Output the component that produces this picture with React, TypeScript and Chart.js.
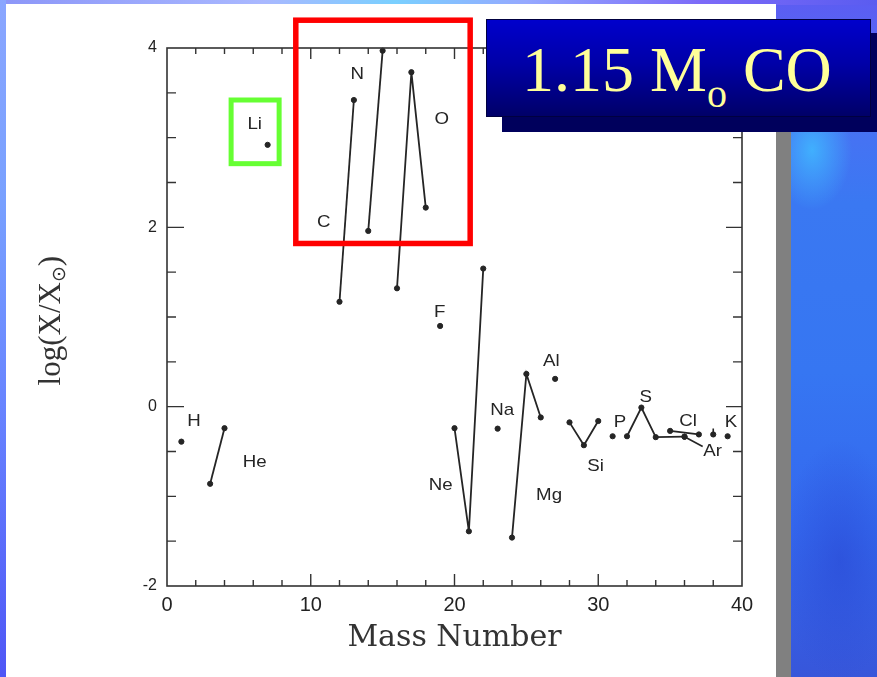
import React, { useEffect, useRef } from 'react';
import { Chart, registerables } from 'chart.js';

Chart.register(...registerables);

// Isotopic overabundances for the 1.15 solar-mass CO nova model:
// each pair is [mass number, log(X / X_sun)]
const H = [[1, -0.39]];
const He = [[3, -0.86], [4, -0.24]];
const Li = [[7, 2.92]];
const C = [[12, 1.17], [13, 3.42]];
const N = [[14, 1.96], [15, 3.97]];
const O = [[16, 1.32], [17, 3.73], [18, 2.22]];
const F = [[19, 0.9]];
const Ne = [[20, -0.24], [21, -1.39], [22, 1.54]];
const Na = [[23, -0.245]];
const Mg = [[24, -1.46], [25, 0.365], [26, -0.12]];
const Al = [[27, 0.31]];
const Si = [[28, -0.175], [29, -0.43], [30, -0.16]];
const P = [[31, -0.33]];
const S = [[32, -0.33], [33, -0.01], [34, -0.34], [36, -0.335]];
const Cl = [[35, -0.27], [37, -0.31]];
const Ar = [[36, -0.335], [38, -0.31]];
const K = [[39, -0.33]];

const elementNames = ['H', 'He', 'Li', 'C', 'N', 'O', 'F', 'Ne', 'Na', 'Mg', 'Al', 'Si', 'P', 'S', 'Cl', 'Ar', 'K'];
const elementSeries = [H, He, Li, C, N, O, F, Ne, Na, Mg, Al, Si, P, S, Cl, Ar, K];
// isotopes of one element are joined by a line, except argon
const joinIsotopes = [true, true, true, true, true, true, true, true, true, true, true, true, true, true, true, false, true];

// where each element symbol sits, in axis units
const labelMass = [1.87, 6.1, 6.1, 10.9, 13.23, 19.11, 18.97, 19.04, 23.32, 26.58, 26.73, 29.82, 31.52, 33.3, 36.25, 37.96, 39.24];
const labelLog = [-0.16, -0.62, 3.15, 2.06, 3.71, 3.2, 1.05, -0.88, -0.04, -0.99, 0.51, -0.66, -0.18, 0.1, -0.16, -0.5, -0.17];

// axis ranges
const massRange = [0, 40];
const logRange = [-2, 4];

// highlight frames: [mass from, mass to, log from, log to]
const cnoFrame = [8.96, 21.09, 1.82, 4.31];
const lithiumFrame = [4.46, 7.8, 2.71, 3.42];

const INK = '#252525';
const SANS = '"Liberation Sans", Arial, Helvetica, sans-serif';
const SERIF = '"Liberation Serif", "Times New Roman", "DejaVu Serif", serif';

const framePlugin = {
  id: 'frameAndTicks',
  afterDraw(chart: any) {
    const { ctx, chartArea: a, scales } = chart;
    const x = scales.x;
    const y = scales.y;
    ctx.save();
    ctx.strokeStyle = '#333';
    ctx.lineWidth = 1.6;
    ctx.strokeRect(a.left, a.top, a.right - a.left, a.bottom - a.top);
    ctx.lineWidth = 1.4;
    ctx.beginPath();
    // inward tick marks on bottom and top, every 2 mass units
    for (let v = massRange[0] + 2; v < massRange[1]; v += 2) {
      const px = x.getPixelForValue(v);
      const major = v % 10 === 0;
      ctx.moveTo(px, a.bottom);
      ctx.lineTo(px, a.bottom - (major ? 12 : 6));
      ctx.moveTo(px, a.top);
      ctx.lineTo(px, a.top + (major ? 11 : 6));
    }
    // inward tick marks on left and right, every 0.5 dex
    for (let v = logRange[0] + 0.5; v < logRange[1]; v += 0.5) {
      const py = y.getPixelForValue(v);
      const major = v % 2 === 0;
      ctx.moveTo(a.left, py);
      ctx.lineTo(a.left + (major ? 17 : 9), py);
      ctx.moveTo(a.right, py);
      ctx.lineTo(a.right - (major ? 16 : 9), py);
    }
    ctx.stroke();
    ctx.restore();
  },
};

const labelPlugin = {
  id: 'elementLabels',
  afterDraw(chart: any) {
    const { ctx, scales } = chart;
    const x = scales.x;
    const y = scales.y;
    ctx.save();
    ctx.fillStyle = INK;
    ctx.strokeStyle = INK;
    ctx.font = `17px ${SANS}`;
    ctx.textAlign = 'center';
    ctx.textBaseline = 'middle';
    elementNames.forEach((name, i) => {
      const px = x.getPixelForValue(labelMass[i]);
      const py = y.getPixelForValue(labelLog[i]);
      ctx.save();
      ctx.translate(px, py);
      ctx.scale(1.1, 1);
      ctx.fillText(name, 0, 0);
      ctx.restore();
    });
    // argon: pointer from the 36Ar point to its symbol, stem over 38Ar
    const ai = elementNames.indexOf('Ar');
    const a36x = x.getPixelForValue(Ar[0][0]);
    const a36y = y.getPixelForValue(Ar[0][1]);
    const lx = x.getPixelForValue(labelMass[ai]);
    const ly = y.getPixelForValue(labelLog[ai]);
    ctx.lineWidth = 1.6;
    ctx.beginPath();
    ctx.moveTo(a36x, a36y);
    ctx.lineTo(lx - 10, ly - 5);
    const a38x = x.getPixelForValue(Ar[1][0]);
    const a38y = y.getPixelForValue(Ar[1][1]);
    ctx.moveTo(a38x, a38y);
    ctx.lineTo(a38x, a38y - 6);
    ctx.stroke();

    // y-axis title: log(X/X⊙), rotated
    const cx = 60;
    const cy = 320.6;
    ctx.translate(cx, cy);
    ctx.rotate(-Math.PI / 2);
    ctx.textAlign = 'left';
    ctx.textBaseline = 'alphabetic';
    ctx.fillStyle = '#333';
    const big = `31px ${SERIF}`;
    const small = `19px "DejaVu Sans", ${SERIF}`;
    ctx.font = big;
    const w1 = ctx.measureText('log(X/X').width;
    const w3 = ctx.measureText(')').width;
    ctx.font = small;
    const w2 = ctx.measureText('\u2299').width;
    let sx = -(w1 + w2 + w3) / 2;
    ctx.font = big;
    ctx.fillText('log(X/X', sx, 0);
    sx += w1;
    ctx.font = small;
    ctx.fillText('\u2299', sx, 5);
    sx += w2;
    ctx.font = big;
    ctx.fillText(')', sx, 0);
    ctx.restore();
  },
};

const highlightPlugin = {
  id: 'highlightFrames',
  afterDraw(chart: any) {
    const { ctx, scales } = chart;
    const x = scales.x;
    const y = scales.y;
    const frame = (r: number[], color: string, width: number) => {
      const x0 = x.getPixelForValue(r[0]);
      const x1 = x.getPixelForValue(r[1]);
      const y0 = y.getPixelForValue(r[3]);
      const y1 = y.getPixelForValue(r[2]);
      ctx.strokeStyle = color;
      ctx.lineWidth = width;
      ctx.strokeRect(x0, y0, x1 - x0, y1 - y0);
    };
    ctx.save();
    frame(cnoFrame, '#ff0000', 5.5);
    frame(lithiumFrame, '#66ff33', 5);
    ctx.restore();
  },
};

export default function App() {
  const canvasRef = useRef<HTMLCanvasElement>(null);

  useEffect(() => {
    const canvas = canvasRef.current;
    if (!canvas) return;
    const datasets = elementSeries.map((pts, i) => ({
      label: elementNames[i],
      data: pts.map(([m, v]) => ({ x: m, y: v })),
      showLine: joinIsotopes[i],
      borderColor: INK,
      backgroundColor: INK,
      borderWidth: 1.8,
      pointRadius: 2.6,
      pointHoverRadius: 2.6,
      pointBorderWidth: 1,
      pointBorderColor: INK,
      pointBackgroundColor: INK,
      tension: 0,
      clip: false as any,
    }));

    const chart = new Chart(canvas, {
      type: 'scatter',
      data: { datasets },
      options: {
        responsive: false,
        animation: false,
        devicePixelRatio: 1,
        events: [],
        layout: { padding: { left: 0, top: 48, right: 135, bottom: 0 } },
        plugins: {
          legend: { display: false },
          tooltip: { enabled: false },
        },
        scales: {
          x: {
            type: 'linear',
            position: 'bottom',
            min: massRange[0],
            max: massRange[1],
            grid: { display: false, drawTicks: false },
            border: { display: false },
            ticks: {
              stepSize: 10,
              padding: 7,
              maxRotation: 0,
              autoSkip: false,
              color: '#222',
              font: { family: SANS, size: 20 },
            },
            title: {
              display: true,
              text: 'Mass Number',
              color: '#333',
              font: { family: '"DejaVu Serif", serif', size: 30 },
              padding: { top: 0, bottom: 21 },
            },
            afterFit: (s: any) => {
              s.height = 91;
            },
          },
          y: {
            type: 'linear',
            min: logRange[0],
            max: logRange[1],
            grid: { display: false, drawTicks: false },
            border: { display: false },
            ticks: {
              stepSize: 2,
              padding: 10,
              color: '#222',
              font: { family: SANS, size: 16 },
            },
            afterFit: (s: any) => {
              s.width = 167;
            },
          },
        },
      },
      plugins: [framePlugin, labelPlugin, highlightPlugin],
    });
    return () => chart.destroy();
  }, []);

  return (
    <div
      style={{
        position: 'fixed',
        left: 0,
        top: 0,
        width: 877,
        height: 677,
        overflow: 'hidden',
        background:
          'radial-gradient(ellipse 40px 60px at 812px 150px, rgba(64,182,255,0.9), rgba(64,182,255,0)), ' +
          'radial-gradient(ellipse 60px 120px at 840px 560px, rgba(40,70,210,0.55), rgba(40,70,210,0)), ' +
          'linear-gradient(180deg, #5c5cf2 0%, #4f6ef4 12%, #3a78f2 30%, #3676f2 55%, #3468ee 78%, #3756da 100%)',
      }}
    >
      <div
        style={{
          position: 'absolute',
          left: 0,
          top: 0,
          width: 877,
          height: 5,
          background: 'linear-gradient(90deg, #8c96f8 0%, #a9b8ff 30%, #7ad0ff 45%, #95a8ff 60%, #7c6af8 80%, #5a5cf0 100%)',
        }}
      />
      <div
        style={{
          position: 'absolute',
          left: 0,
          top: 0,
          width: 6,
          height: 677,
          background: 'linear-gradient(180deg, #8aa6ff 0%, #78a0ff 30%, #6884ff 60%, #4e56f6 100%)',
        }}
      />
      <div style={{ position: 'absolute', left: 6, top: 4, width: 770, height: 673, background: '#ffffff' }} />
      <div style={{ position: 'absolute', left: 776, top: 120, width: 15, height: 557, background: '#808080' }} />
      <canvas ref={canvasRef} width={877} height={677} style={{ position: 'absolute', left: 0, top: 0 }} />
      <div style={{ position: 'absolute', left: 502, top: 33, width: 380, height: 99, background: '#00005c' }} />
      <div
        style={{
          position: 'absolute',
          left: 486,
          top: 19,
          width: 385,
          height: 98,
          boxSizing: 'border-box',
          border: '1px solid #000040',
          background: 'linear-gradient(180deg, #0000cc 0%, #0000a8 45%, #000068 100%)',
        }}
      >
        <div
          style={{
            position: 'absolute',
            left: 35,
            top: 18.4,
            fontFamily: SERIF,
            fontSize: 64,
            lineHeight: '64px',
            color: '#ffff99',
            whiteSpace: 'nowrap',
          }}
        >
          1.15 M<span style={{ fontSize: 40, position: 'relative', top: 16 }}>o</span> CO
        </div>
      </div>
    </div>
  );
}
